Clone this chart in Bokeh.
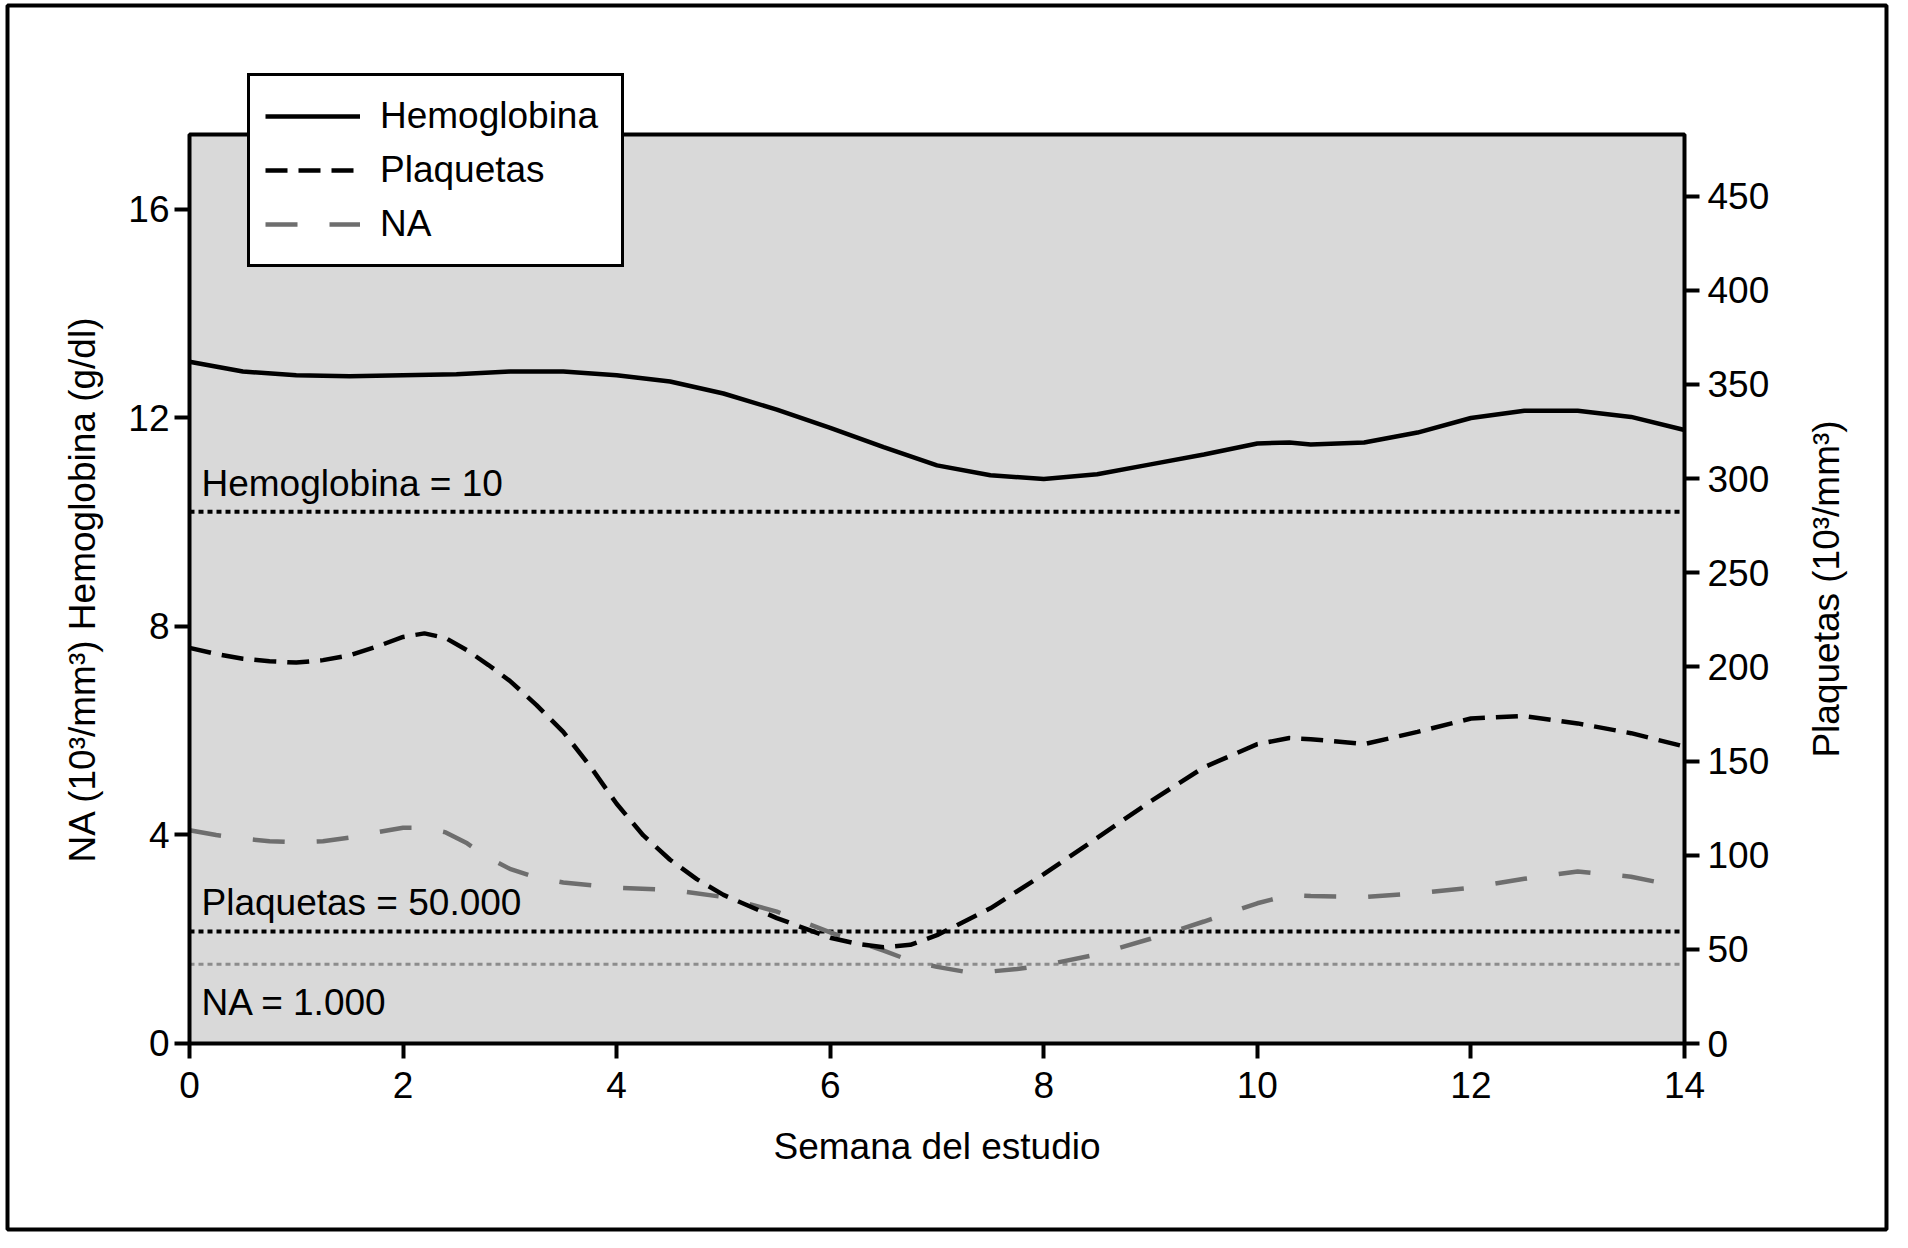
import math
from bokeh.plotting import figure
from bokeh.models import Range1d, LinearAxis, FixedTicker, Legend, LegendItem, ColumnDataSource, Label
from bokeh.core.properties import value
from bokeh.embed import file_html
from bokeh.resources import INLINE

FONT = "Liberation Sans"

# ---- data ----
hb_weeks = [0, 0.5, 1, 1.5, 2, 2.5, 3, 3.5, 4, 4.5, 5, 5.5, 6, 6.5, 7, 7.5, 8,
            8.5, 9, 9.5, 10, 10.3, 10.5, 11, 11.5, 12, 12.5, 13, 13.5, 14]
hemoglobina = [13.08, 12.89, 12.82, 12.80, 12.82, 12.84, 12.89, 12.89, 12.82, 12.70,
               12.47, 12.16, 11.81, 11.44, 11.09, 10.90, 10.83, 10.92, 11.11, 11.30,
               11.51, 11.53, 11.49, 11.53, 11.72, 12.00, 12.14, 12.14, 12.02, 11.77]

pl_weeks = [0, 0.25, 0.5, 0.75, 1, 1.25, 1.5, 1.75, 2, 2.2, 2.4, 2.6, 2.8, 3, 3.25,
            3.5, 3.75, 4, 4.25, 4.5, 4.75, 5, 5.5, 6, 6.25, 6.5, 6.75, 7, 7.5, 8,
            8.5, 9, 9.5, 10, 10.3, 10.5, 11, 11.5, 12, 12.5, 13, 13.5, 14]
plaquetas = [210.1, 206.9, 204.3, 203.0, 202.3, 203.6, 206.2, 210.7, 215.9, 217.8,
             215.3, 208.8, 201.0, 192.6, 179.7, 165.5, 147.4, 127.3, 110.5, 97.6,
             87.3, 78.9, 66.6, 56.2, 53.0, 51.1, 52.4, 57.5, 71.8, 89.9, 109.2,
             128.6, 146.7, 159.0, 162.2, 161.6, 159.0, 165.5, 172.6, 173.9, 170.0,
             164.8, 157.7]

na_weeks = [0, 0.25, 0.5, 0.75, 1, 1.25, 1.5, 1.75, 2, 2.2, 2.4, 2.6, 2.8, 3, 3.25,
            3.5, 4, 4.5, 5, 5.5, 6, 6.5, 6.75, 7, 7.25, 7.5, 7.75, 8, 8.5, 9, 9.5,
            10, 10.3, 10.5, 11, 11.5, 12, 12.5, 13, 13.5, 14]
na = [4.09, 4.00, 3.93, 3.88, 3.86, 3.88, 3.95, 4.05, 4.14, 4.14, 4.05, 3.84, 3.56,
      3.35, 3.18, 3.09, 2.99, 2.95, 2.81, 2.53, 2.13, 1.78, 1.59, 1.47, 1.38, 1.38,
      1.43, 1.50, 1.71, 2.01, 2.34, 2.69, 2.85, 2.83, 2.81, 2.88, 2.99, 3.16, 3.30,
      3.20, 2.99]

# reference lines (left-axis units, as drawn) and their labels
ref_levels = [10.2, 2.15, 1.52]
ref_labels = ["Hemoglobina = 10", "Plaquetas = 50.000", "NA = 1.000"]
ref_colors = ["#000000", "#000000", "#8c8c8c"]
ref_widths = [4.0, 4.0, 3.0]
ref_label_offsets = [-28, -29, 38]

x_ticks = [0, 2, 4, 6, 8, 10, 12, 14]
left_ticks = [0, 4, 8, 12, 16]
right_ticks = [0, 50, 100, 150, 200, 250, 300, 350, 400, 450]

x_title = "Semana del estudio"
left_title = "NA (10\u00b3/mm\u00b3) Hemoglobina (g/dl)"
right_title = "Plaquetas (10\u00b3/mm\u00b3)"

# plot-area extent (data units)
x_min, x_max = 0, 14
y_min, y_top = 0, 17.44

# the frame covers the whole canvas; axes sit on the grey area's edges
p = figure(width=1892, height=1232, output_backend="svg", toolbar_location=None,
           x_range=Range1d(-1.7699, 15.9478), y_range=Range1d(-3.626, 20.009),
           min_border_left=0, min_border_right=0, min_border_top=0,
           min_border_bottom=0, title=None)
p.extra_y_ranges = {"plt": Range1d(-100.37, 553.91)}

p.background_fill_color = "white"
p.border_fill_color = "white"
p.outline_line_color = None
p.xgrid.visible = False
p.ygrid.visible = False

# outer frame of the figure
p.quad(left=[-1.7043], right=[15.8915], bottom=[-3.568], top=[19.914],
       fill_color=None, line_color="black", line_width=4)

def style_axis(ax, lab_standoff):
    ax.axis_line_color = None
    ax.major_tick_line_width = 4
    ax.major_tick_line_color = "black"
    ax.major_tick_out = 15
    ax.major_tick_in = 0
    ax.minor_tick_line_color = None
    ax.major_label_text_font = FONT
    ax.major_label_text_font_size = "37px"
    ax.major_label_text_color = "black"
    ax.major_label_standoff = lab_standoff
    ax.axis_label = None

xax = p.xaxis[0]
style_axis(xax, 14)
xax.ticker = FixedTicker(ticks=x_ticks)
xax.fixed_location = y_min

yax = p.yaxis[0]
style_axis(yax, 5)
yax.ticker = FixedTicker(ticks=left_ticks)
yax.fixed_location = x_min

rax = LinearAxis(y_range_name="plt")
style_axis(rax, 8)
rax.ticker = FixedTicker(ticks=right_ticks)
rax.fixed_location = x_max
p.add_layout(rax, "right")

# grey plot area
p.quad(left=[x_min], right=[x_max], bottom=[y_min], top=[y_top],
       fill_color="#d9d9d9", line_color=None)

# reference lines + labels
n = len(ref_levels)
ref_src = ColumnDataSource(dict(x0=[x_min] * n, x1=[x_max] * n, y=ref_levels,
                                c=ref_colors, w=ref_widths, t=ref_labels,
                                off=ref_label_offsets))
p.segment(x0="x0", x1="x1", y0="y", y1="y", source=ref_src, line_color="c",
          line_width="w", line_dash="5 4")
p.text(x="x0", y="y", text="t", source=ref_src, x_offset=12, y_offset="off",
       text_font=value(FONT), text_font_size="37px", text_color="black",
       text_baseline="alphabetic", text_align="left")

# series
r_na = p.line(na_weeks, na, line_color="#6e6e6e", line_width=4.5, line_dash="32 32")
r_pl = p.line(pl_weeks, plaquetas, line_color="black", line_width=4.5,
              line_dash="22 11", y_range_name="plt")
r_hb = p.line(hb_weeks, hemoglobina, line_color="black", line_width=4.5)

# plot-area border on top
p.quad(left=[x_min], right=[x_max], bottom=[y_min], top=[y_top],
       fill_color=None, line_color="black", line_width=4)

# axis titles
ymid = (y_min + y_top) / 2
xmid = (x_min + x_max) / 2
title_kw = dict(text_font=FONT, text_font_size="37px", text_color="black",
                text_baseline="alphabetic", text_align="center")
p.add_layout(Label(x=xmid, y=-1.977, text=x_title, **title_kw))
p.add_layout(Label(x=-1.002, y=ymid, text=left_title, angle=math.pi / 2, **title_kw))
p.add_layout(Label(x=15.33, y=ymid, text=right_title, angle=math.pi / 2, **title_kw))

legend = Legend(items=[LegendItem(label="Hemoglobina", renderers=[r_hb]),
                       LegendItem(label="Plaquetas", renderers=[r_pl]),
                       LegendItem(label="NA", renderers=[r_na])],
                location=(247, 965))
legend.label_text_font = FONT
legend.label_text_font_size = "37px"
legend.label_text_color = "black"
legend.glyph_width = 95
legend.glyph_height = 50
legend.label_height = 50
legend.label_width = 226
legend.spacing = 4
legend.padding = 15
legend.margin = 0
legend.label_standoff = 20
legend.border_line_color = "black"
legend.border_line_alpha = 1.0
legend.border_line_width = 3.5
legend.background_fill_color = "white"
legend.background_fill_alpha = 1.0
p.add_layout(legend, "center")

open("out.html", "w").write(file_html(p, INLINE))
